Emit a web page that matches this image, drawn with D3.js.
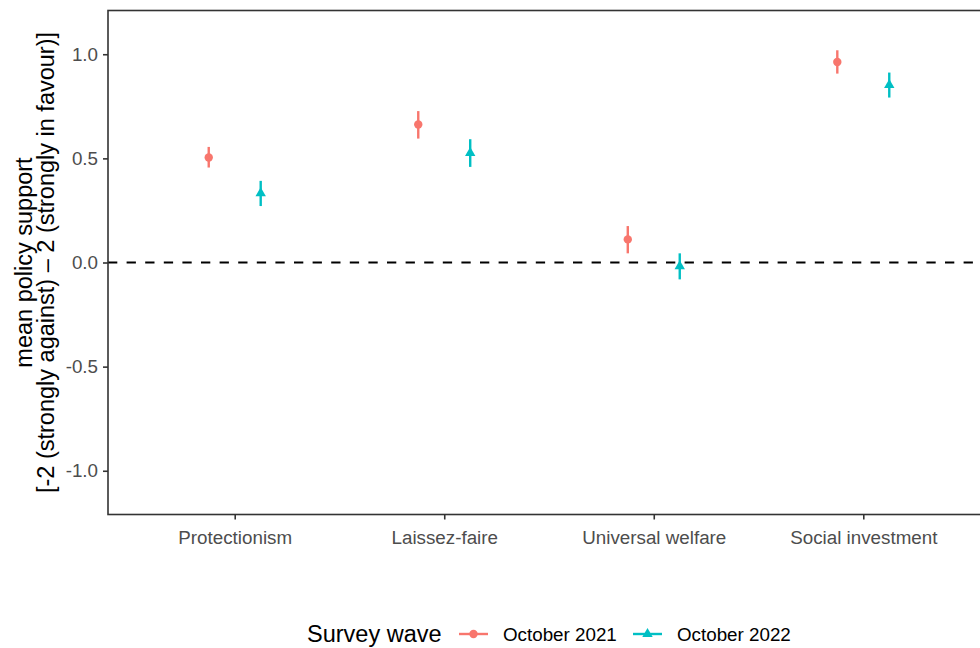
<!DOCTYPE html>
<html>
<head>
<meta charset="utf-8">
<script src="https://cdn.jsdelivr.net/npm/d3@7"></script>
<style>
  html, body { margin: 0; padding: 0; background: #fff; }
  svg { display: block; font-family: "Liberation Sans", Arial, sans-serif; }
</style>
</head>
<body>
<svg id="chart" width="980" height="648"></svg>
<script>
// Policy domains on the x axis
const categories = ["Protectionism", "Laissez-faire", "Universal welfare", "Social investment"];
// Survey waves
const waves = ["October 2021", "October 2022"];
// Mean support per domain, one array per wave
const mean2021 = [0.504, 0.663, 0.111, 0.963];
const mean2022 = [0.332, 0.526, -0.018, 0.852];
// 95% confidence bounds
const lower2021 = [0.456, 0.595, 0.044, 0.907];
const upper2021 = [0.555, 0.727, 0.175, 1.019];
const lower2022 = [0.271, 0.459, -0.081, 0.792];
const upper2022 = [0.392, 0.592, 0.044, 0.912];
// Y axis ticks
const yTicks = [-1.0, -0.5, 0.0, 0.5, 1.0];

const colors = ["#F8766D", "#00BFC4"];

const rows = [];
categories.forEach((c, i) => {
  rows.push({ cat: c, wave: 0, mean: mean2021[i], lo: lower2021[i], hi: upper2021[i] });
  rows.push({ cat: c, wave: 1, mean: mean2022[i], lo: lower2022[i], hi: upper2022[i] });
});

const svg = d3.select("#chart");
const panel = { left: 108, top: 10.5, right: 989, bottom: 514.5 };

const x = d3.scalePoint().domain(categories).range([109, 989]).padding(0.6);
const y = d3.scaleLinear().domain([-1.21, 1.21]).range([panel.bottom, panel.top]);
const dodge = x.step() * 0.124;
const px = d => x(d.cat) + (d.wave === 0 ? -dodge : dodge);

// Reference line at zero
svg.append("line")
  .attr("x1", panel.left).attr("x2", panel.right)
  .attr("y1", y(0)).attr("y2", y(0))
  .attr("stroke", "#000").attr("stroke-width", 2)
  .attr("stroke-dasharray", "9.3,9.3");

// Confidence intervals
svg.append("g").selectAll("line").data(rows).join("line")
  .attr("x1", px).attr("x2", px)
  .attr("y1", d => y(d.lo)).attr("y2", d => y(d.hi))
  .attr("stroke", d => colors[d.wave]).attr("stroke-width", 2.4);

// Point estimates: circle for 2021, triangle for 2022
const circleSym = d3.symbol().type(d3.symbolCircle).size(Math.PI * 4.2 * 4.2);
const triPath = r => `M0,${-r}L${r * 0.866},${r / 2}L${-r * 0.866},${r / 2}Z`;
svg.append("g").selectAll("path").data(rows).join("path")
  .attr("transform", d => `translate(${px(d)},${y(d.mean)})`)
  .attr("d", d => d.wave === 0 ? circleSym() : triPath(6))
  .attr("fill", d => colors[d.wave]);

// Panel border
svg.append("rect")
  .attr("x", panel.left).attr("y", panel.top)
  .attr("width", panel.right - panel.left).attr("height", panel.bottom - panel.top)
  .attr("fill", "none").attr("stroke", "#333333").attr("stroke-width", 1.6);

// Y axis (plain hyphen for negative numbers)
const fmt = d3.format(".1f");
const yAxis = svg.append("g")
  .attr("transform", `translate(${panel.left},0)`)
  .call(d3.axisLeft(y).tickValues(yTicks)
    .tickFormat(d => fmt(d).replace("\u2212", "-")).tickSize(5).tickPadding(5));
yAxis.select(".domain").remove();
yAxis.selectAll(".tick line").attr("stroke", "#333333").attr("stroke-width", 1.6);
yAxis.selectAll(".tick text").attr("fill", "#4D4D4D").attr("font-size", 18.8)
  .attr("font-family", "Liberation Sans, Arial, sans-serif");

// X axis
const xAxis = svg.append("g")
  .attr("transform", `translate(0,${panel.bottom})`)
  .call(d3.axisBottom(x).tickSize(5).tickPadding(11));
xAxis.select(".domain").remove();
xAxis.selectAll(".tick line").attr("stroke", "#333333").attr("stroke-width", 1.6);
xAxis.selectAll(".tick text").attr("fill", "#4D4D4D").attr("font-size", 18.8)
  .attr("font-family", "Liberation Sans, Arial, sans-serif");

// Y axis title (two lines)
const yTitle = svg.append("text")
  .attr("transform", `translate(0,${(panel.top + panel.bottom) / 2}) rotate(-90)`)
  .attr("text-anchor", "middle").attr("font-size", 23.5).attr("fill", "#000");
yTitle.append("tspan").attr("x", 0).attr("y", 32).text("mean policy support");
yTitle.append("tspan").attr("x", 0).attr("y", 54).text("[-2 (strongly against) \u2013 2 (strongly in favour)]");

// Legend
const legY = 634;
svg.append("text").attr("x", 307).attr("y", legY).attr("dy", "0.35em")
  .attr("font-size", 23.5).attr("fill", "#000").text("Survey wave");
const keyX = [459, 633];
const labX = [503, 677];
waves.forEach((w, i) => {
  const g = svg.append("g");
  g.append("line").attr("x1", keyX[i]).attr("x2", keyX[i] + 29)
    .attr("y1", legY).attr("y2", legY)
    .attr("stroke", colors[i]).attr("stroke-width", 2.4);
  g.append("path")
    .attr("transform", `translate(${keyX[i] + 14.5},${legY})`)
    .attr("d", i === 0 ? circleSym() : triPath(6))
    .attr("fill", colors[i]);
  g.append("text").attr("x", labX[i]).attr("y", legY).attr("dy", "0.35em")
    .attr("font-size", 18.8).attr("fill", "#000").text(w);
});
</script>
</body>
</html>
